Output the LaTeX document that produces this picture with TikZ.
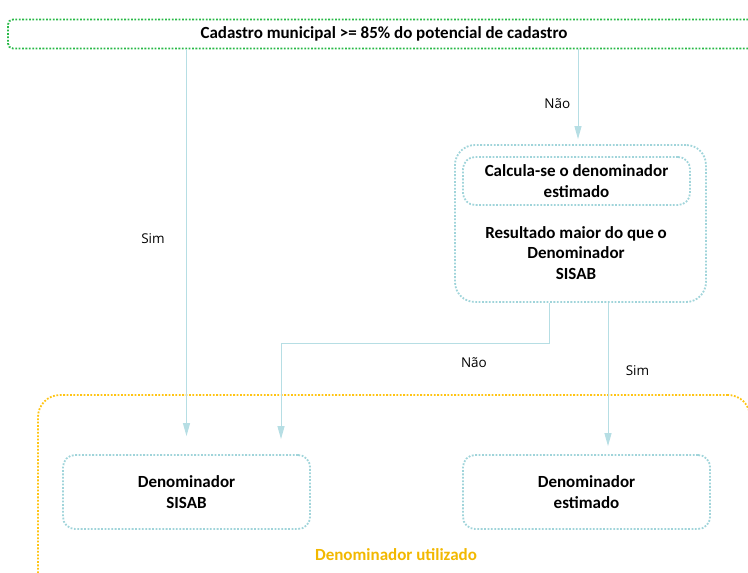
\documentclass[tikz,border=0pt]{standalone}
\usepackage{fontspec}
\setmainfont{Carlito}
\newfontfamily\labelfont{Open Sans}
\usepackage{xcolor}
\usepackage{tikz}
\usetikzlibrary{arrows.meta,positioning}

\definecolor{linkblue}{RGB}{182,222,228}
\definecolor{boxblue}{RGB}{160,212,218}
\definecolor{boxgreen}{RGB}{40,185,70}
\definecolor{boxorange}{RGB}{255,196,20}
\definecolor{txtorange}{RGB}{242,184,0}

\tikzset{
  dotbox/.style={draw=boxblue, line width=1.8pt, dash pattern=on 1.8pt off 1.6pt,
    rounded corners=12pt, align=center, font=\fontsize{17}{20.5}\selectfont\bfseries},
  link/.style={draw=linkblue, line width=1pt, -{Triangle[width=7pt,length=13pt]}},
  lbl/.style={font=\labelfont\fontsize{13.5}{16}\selectfont}
}

\begin{document}
\begin{tikzpicture}[x=1pt,y=-1pt]
    \useasboundingbox (0,0) rectangle (748,573);
    % boxes
    \node[dotbox, draw=boxgreen, rounded corners=5pt, minimum width=752pt, minimum height=29pt] (cad) at (384,34) {Cadastro municipal >= 85\% do potencial de cadastro};
    \node[dotbox, minimum width=251pt, minimum height=157pt, rounded corners=20pt] (dec) at (580.5,223.5) {};
    \node[dotbox, minimum width=227pt, minimum height=48pt] (calc) at (576.5,181) {Calcula-se o denominador\\estimado};
    \node[align=center, font=\fontsize{17}{20.5}\selectfont\bfseries] (res) at (576,253) {Resultado maior do que o\\Denominador\\SISAB};
    \node[dotbox, draw=boxorange, minimum width=712pt, minimum height=200pt, rounded corners=22pt] (used) at (394,495) {};
    \node[font=\fontsize{17}{20}\selectfont\bfseries, text=txtorange] (usedlbl) at (396,555) {Denominador utilizado};
    \node[dotbox, minimum width=247pt, minimum height=74pt] (sisab) at (186.5,492) {Denominador\\SISAB};
    \node[dotbox, minimum width=247pt, minimum height=74pt] (est) at (586.5,492) {Denominador\\estimado};
    % connectors
    \coordinate (turn) at (549,343);
    \draw[link] (cad.south -| sisab.north) -- node[lbl, pos=0.49, left=18pt] {Sim} ([yshift=18pt]sisab.north);
    \draw[link] ([xshift=-2.5pt]cad.south -| dec.north) -- node[lbl, pos=0.6, left=4pt] {Não} ([xshift=-2.5pt,yshift=5pt]dec.north);
    \draw[link] (dec.south -| turn) -- (turn) -| node[lbl, pos=0.14, below=11pt] {Não} ([xshift=94.5pt,yshift=15pt]sisab.north);
    \draw[link] ([xshift=27.5pt]dec.south) -- node[lbl, pos=0.47, right=14pt] {Sim} ([xshift=21.5pt,yshift=8pt]est.north);
\end{tikzpicture}
\end{document}
